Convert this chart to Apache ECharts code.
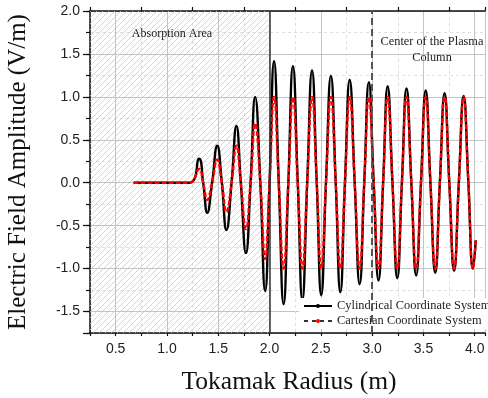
<!DOCTYPE html>
<html><head><meta charset="utf-8">
<script src="https://cdn.jsdelivr.net/npm/echarts@6/dist/echarts.min.js"></script>
<style>html,body{margin:0;padding:0;background:#fff;overflow:hidden}#c{width:488px;height:398px}</style>
</head><body><div id="c"></div>
<script>
// Tokamak radius (m): flat start, then extrema and zero crossings
const radius = [0.675, 1.22,
  1.313, 1.353, 1.393, 1.44, 1.49, 1.535, 1.58, 1.63, 1.677, 1.72, 1.77, 1.815,
  1.86, 1.91, 1.957, 2.0, 2.044, 2.09, 2.137, 2.183, 2.228, 2.275, 2.32, 2.367,
  2.414, 2.46, 2.504, 2.55, 2.598, 2.645, 2.69, 2.735, 2.781, 2.83, 2.878, 2.923,
  2.968, 3.015, 3.062, 3.107, 3.151, 3.198, 3.245, 3.29, 3.335, 3.382, 3.429, 3.476,
  3.522, 3.568, 3.615, 3.66, 3.706, 3.752, 3.799, 3.845, 3.892, 3.938, 3.983, 4.01];
const cylindrical = [0, 0,
  0.28, 0, -0.35, 0, 0.43, 0, -0.55, 0, 0.66, 0, -0.82, 0,
  1.0, 0, -1.26, 0, 1.415, 0, -1.414, 0, 1.357, 0, -1.364, 0,
  1.307, 0, -1.31, 0, 1.244, 0, -1.275, 0, 1.20, 0, -1.182, 0,
  1.171, 0, -1.139, 0, 1.124, 0, -1.112, 0, 1.097, 0, -1.081, 0,
  1.074, 0, -1.05, 0, 1.043, 0, -1.027, 0, 1.012, 0, -1.0, -0.67];
const cartesian = [0, 0,
  0.16, 0, -0.20, 0, 0.27, 0, -0.34, 0, 0.43, 0, -0.54, 0,
  0.69, 0, -0.89, 0, 1.0, 0, -1.0, 0, 1.0, 0, -1.0, 0,
  1.0, 0, -1.0, 0, 1.0, 0, -1.0, 0, 1.0, 0, -1.0, 0,
  1.0, 0, -1.0, 0, 1.0, 0, -1.0, 0, 1.0, 0, -1.0, 0,
  1.0, 0, -1.0, 0, 1.0, 0, -1.0, 0, 1.0, 0, -1.0, -0.67];
const seriesNames = ['Cylindrical Coordinate System', 'Cartesian Coordinate System'];
const absorptionArea = [0.25, 2.0];
const plasmaCenter = 3.0;
const xRange = [0.25, 4.1];
const yRange = [-1.75, 2.0];
const xTitle = 'Tokamak Radius (m)';
const yTitle = 'Electric Field Amplitude (V/m)';
const absorptionLabel = 'Absorption Area';
const centerLabel = 'Center of the Plasma\nColumn';

function hatch() {
  const s = 6, c = document.createElement('canvas');
  c.width = s; c.height = s;
  const g = c.getContext('2d');
  g.strokeStyle = '#c6c6c6'; g.lineWidth = 0.75;
  g.beginPath();
  g.moveTo(0, s); g.lineTo(s, 0);
  g.moveTo(-1, 1); g.lineTo(1, -1);
  g.moveTo(s - 1, s + 1); g.lineTo(s + 1, s - 1);
  g.stroke();
  return c;
}
const halfLabel = v => (Math.abs(v * 2 - Math.round(v * 2)) < 1e-6 ? (Math.round(v * 2) / 2).toFixed(1) : '');
const black = '#111';
const tickFont = { fontFamily: '"Liberation Sans", Arial', fontSize: 14, color: '#222' };
const serif = '"Liberation Serif", "Times New Roman", serif';

const chart = echarts.init(document.getElementById('c'), null, { renderer: 'canvas' });
chart.setOption({
  animation: false,
  backgroundColor: '#fff',
  grid: { left: 90, top: 11, right: 0, bottom: 65, containLabel: false },
  xAxis: [
    { type: 'value', position: 'bottom', min: xRange[0], max: xRange[1], interval: 0.25,
      axisLine: { show: true, onZero: false, lineStyle: { color: black, width: 1.5 } },
      axisTick: { show: true, inside: false, length: 3, lineStyle: { color: black, width: 1.2 } },
      axisLabel: Object.assign({ margin: 9, formatter: halfLabel }, tickFont),
      splitLine: { show: false } },
    { type: 'value', position: 'top', min: xRange[0], max: xRange[1], interval: 0.5,
      axisLine: { show: true, onZero: false, lineStyle: { color: black, width: 1.5 } },
      axisTick: { show: true, inside: false, length: 4, lineStyle: { color: black, width: 1.2 } },
      axisLabel: { show: false },
      splitLine: { show: true, lineStyle: { color: '#dedede', width: 1, type: [3, 3] } } },
    { type: 'value', position: 'bottom', min: xRange[0], max: xRange[1], splitNumber: 8,
      axisLine: { show: false }, axisTick: { show: false }, axisLabel: { show: false },
      splitLine: { show: true, lineStyle: { color: '#c4c4c4', width: 1 } } }
  ],
  yAxis: [
    { type: 'value', position: 'left', min: yRange[0], max: yRange[1], interval: 0.25,
      axisLine: { show: true, onZero: false, lineStyle: { color: black, width: 1.5 } },
      axisTick: { show: true, inside: false, length: 4, lineStyle: { color: black, width: 1.2 } },
      axisLabel: Object.assign({ margin: 10, formatter: halfLabel }, tickFont),
      splitLine: { show: false } },
    { type: 'value', position: 'left', min: yRange[0], max: yRange[1], interval: 0.5,
      axisLine: { show: false }, axisTick: { show: false }, axisLabel: { show: false },
      splitLine: { show: true, lineStyle: { color: '#dedede', width: 1, type: [3, 3] } } },
    { type: 'value', position: 'left', min: yRange[0], max: yRange[1], splitNumber: 8,
      axisLine: { show: false },
      axisTick: { show: true, inside: false, length: 7, lineStyle: { color: black, width: 1.2 } },
      axisLabel: { show: false },
      splitLine: { show: true, lineStyle: { color: '#c4c4c4', width: 1 } } }
  ],
  legend: {
    left: 299, top: 298, orient: 'vertical', itemGap: 3, itemWidth: 28, itemHeight: 5,
    padding: [2, 4, 2, 4], backgroundColor: '#fff',
    textStyle: { fontFamily: serif, fontSize: 12.4, color: '#222' },
    data: [
      { name: seriesNames[0] },
      { name: seriesNames[1], lineStyle: { color: '#333', type: [4, 4], width: 2 } }
    ]
  },
  series: [
    { name: seriesNames[0], type: 'line', xAxisIndex: 0, yAxisIndex: 0,
      data: radius.map((x, i) => [x, cylindrical[i]]),
      smooth: 0.5, symbol: 'circle', symbolSize: 4, showSymbol: false,
      lineStyle: { color: '#000', width: 2.4 }, itemStyle: { color: '#000' }, z: 3,
      markArea: { silent: true, itemStyle: { color: { image: hatch(), repeat: 'repeat' } },
        data: [[{ xAxis: absorptionArea[0] }, { xAxis: absorptionArea[1] }]] },
      markLine: { silent: true, symbol: 'none', label: { show: false },
        data: [
          { xAxis: absorptionArea[1], lineStyle: { color: '#333', width: 1.5, type: 'solid' } },
          { xAxis: plasmaCenter, lineStyle: { color: '#555', width: 2, type: [7, 4] } }
        ] } },
    { name: seriesNames[1], type: 'line', xAxisIndex: 0, yAxisIndex: 0,
      data: radius.map((x, i) => [x, cartesian[i]]),
      smooth: 0.5, symbol: 'circle', symbolSize: 4, showSymbol: false,
      lineStyle: { color: '#ff0000', width: 2.4, type: [5, 2] }, itemStyle: { color: '#ff0000' }, z: 4 }
  ],
  graphic: [
    { type: 'text', x: 18, y: 172, rotation: Math.PI / 2, z: 10,
      style: { text: yTitle, font: '25px ' + serif, fill: '#111', align: 'center', verticalAlign: 'middle', textAlign: 'center', textVerticalAlign: 'middle' } },
    { type: 'text', x: 289, y: 382, z: 10,
      style: { text: xTitle, font: '25.5px ' + serif, fill: '#111', align: 'center', verticalAlign: 'middle', textAlign: 'center', textVerticalAlign: 'middle' } },
    { type: 'text', x: 172, y: 34, z: 10,
      style: { text: absorptionLabel, font: '12px ' + serif, fill: '#222', align: 'center', verticalAlign: 'middle', textAlign: 'center', textVerticalAlign: 'middle' } },
    { type: 'text', x: 432, y: 50, z: 10,
      style: { text: centerLabel, font: '12.3px ' + serif, lineHeight: 15.5, fill: '#222', align: 'center', verticalAlign: 'middle', textAlign: 'center', textVerticalAlign: 'middle' } }
  ]
});
</script>
</body></html>
